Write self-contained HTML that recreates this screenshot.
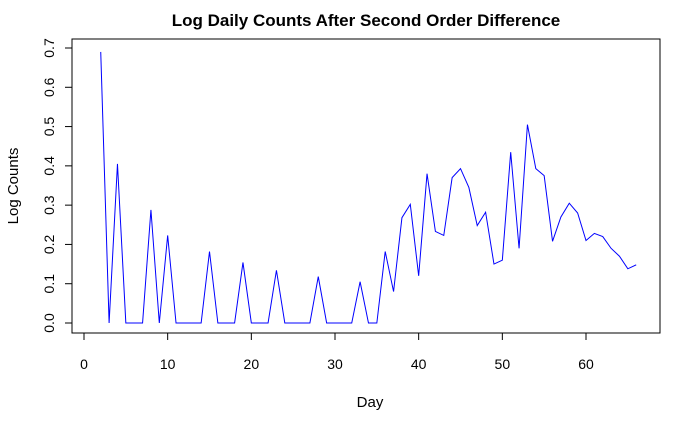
<!DOCTYPE html>
<html><head><meta charset="utf-8"><style>body{margin:0;background:#fff}svg{display:block;font-family:"Liberation Sans",sans-serif}</style></head>
<body>
<svg id="chart" width="700" height="432" xmlns="http://www.w3.org/2000/svg">
<text x="366" y="26" text-anchor="middle" font-size="17" font-weight="bold">Log Daily Counts After Second Order Difference</text>
<rect x="72" y="39" width="588" height="294" fill="none" stroke="#000" stroke-width="1"/>
<g id="xaxis"></g>
<g id="yaxis"></g>
<text x="370" y="407" text-anchor="middle" font-size="15">Day</text>
<text transform="translate(18,186) rotate(-90)" text-anchor="middle" font-size="15">Log Counts</text>
<polyline id="series" fill="none" stroke="#0000ff" stroke-width="1"/>
</svg>
<script>
const days = [2,3,4,5,6,7,8,9,10,11,12,13,14,15,16,17,18,19,20,21,22,23,24,25,26,27,28,29,30,31,32,33,34,35,36,37,38,39,40,41,42,43,44,45,46,47,48,49,50,51,52,53,54,55,56,57,58,59,60,61,62,63,64,65,66];
const values = [0.69,0,0.405,0,0,0,0.288,0,0.223,0,0,0,0,0.182,0,0,0,0.154,0,0,0,0.134,0,0,0,0,0.118,0,0,0,0,0.105,0,0,0.182,0.08,0.268,0.302,0.12,0.38,0.233,0.223,0.37,0.393,0.345,0.248,0.282,0.15,0.16,0.435,0.19,0.505,0.393,0.375,0.208,0.27,0.305,0.28,0.21,0.228,0.22,0.19,0.17,0.138,0.148];
const xTicks = [0,10,20,30,40,50,60];
const yTicks = [0,0.1,0.2,0.3,0.4,0.5,0.6,0.7];
const yTickLabels = ["0.0","0.1","0.2","0.3","0.4","0.5","0.6","0.7"];
const NS="http://www.w3.org/2000/svg";
function sx(v){return 84+v*(586-84)/60;}
function sy(v){return 323-v*(323-48)/0.7;}
function mk(t,a){const e=document.createElementNS(NS,t);for(const k in a)e.setAttribute(k,a[k]);return e;}
const xa=document.getElementById('xaxis');
xa.appendChild(mk('line',{x1:sx(0),x2:sx(60),y1:333,y2:333,stroke:'#000'}));
xTicks.forEach(t=>{
  const l=mk('line',{x1:sx(t),x2:sx(t),y1:333,y2:340,stroke:'#000'});
  
  
  xa.appendChild(l);
  const tx=mk('text',{x:sx(t),y:369,'text-anchor':'middle','font-size':'14'});
  
  
  tx.textContent=t;xa.appendChild(tx);
});
const ya=document.getElementById('yaxis');
ya.appendChild(mk('line',{x1:72,x2:72,y1:sy(0),y2:sy(0.7),stroke:'#000'}));
yTicks.forEach((t,i)=>{
  const l=mk('line',{x1:65,x2:72,y1:sy(t),y2:sy(t),stroke:'#000'});
  
  
  ya.appendChild(l);
  const tx=mk('text',{transform:`translate(54,${sy(t)}) rotate(-90)`,'text-anchor':'middle','font-size':'14'});
  
  
  tx.textContent=yTickLabels[i];ya.appendChild(tx);
});
document.getElementById('series').setAttribute('points',days.map((d,i)=>sx(d)+','+sy(values[i])).join(' '));
</script>
</body></html>
